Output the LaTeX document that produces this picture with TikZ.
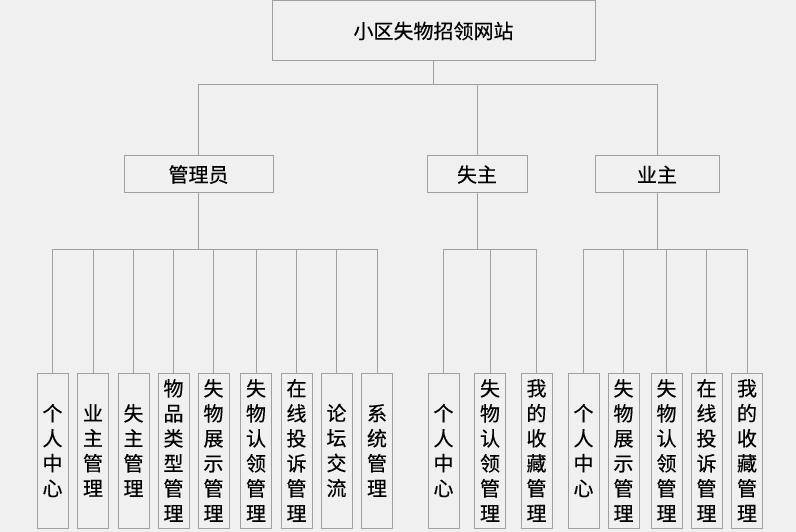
\documentclass[tikz,border=0pt]{standalone}
\usepackage{fontspec}
\setmainfont{Noto Sans CJK SC}[FakeBold=0.35]
\usepackage{xcolor}
\usepackage{tikz}
\usetikzlibrary{positioning, calc}
\definecolor{bggray}{HTML}{F0F0F0}
\definecolor{boxgray}{HTML}{A0A0A0}
\tikzset{
    site/.style={
        rectangle,
        draw=boxgray,
        line width=1pt,
        fill=bggray,
        minimum width=323pt,
        minimum height=60pt,
        font=\fontsize{20}{25}\selectfont,
    },
    role/.style={
        rectangle,
        draw=boxgray,
        line width=1pt,
        fill=bggray,
        minimum height=37pt,
        font=\fontsize{20}{25}\selectfont,
    },
    func/.style={
        rectangle,
        draw=boxgray,
        line width=1pt,
        fill=bggray,
        minimum width=31pt,
        minimum height=155pt,
        inner sep=0pt,
        align=center,
        font=\fontsize{20}{25}\selectfont,
    },
    link/.style={
        draw=boxgray,
        line width=1pt,
    },
}

\begin{document}
\begin{tikzpicture}[x=1pt, y=-1pt]
      \fill[bggray] (0,0) rectangle (796,532);
      \useasboundingbox (0,0) rectangle (796,532);

      \node[site] (web) at (433.5,31) {小区失物招领网站};

      \node[role, minimum width=149pt] (admin) at (198.5,174.5) {管理员};
      \node[role, minimum width=100pt] (loser) at (477,174.5) {失主};
      \node[role, minimum width=124pt] (owner) at (657,174.5) {业主};

      % admin functions
      \node[func] (a1) at (52.5,450.5) {个\\人\\中\\心};
      \node[func] (a2) at (93,450.5) {业\\主\\管\\理};
      \node[func] (a3) at (133.5,450.5) {失\\主\\管\\理};
      \node[func] (a4) at (173.5,450.5) {物\\品\\类\\型\\管\\理};
      \node[func] (a5) at (213.5,450.5) {失\\物\\展\\示\\管\\理};
      \node[func] (a6) at (256,450.5) {失\\物\\认\\领\\管\\理};
      \node[func] (a7) at (296.5,450.5) {在\\线\\投\\诉\\管\\理};
      \node[func] (a8) at (336.5,450.5) {论\\坛\\交\\流};
      \node[func] (a9) at (377,450.5) {系\\统\\管\\理};

      % loser functions
      \node[func] (l1) at (443.5,450.5) {个\\人\\中\\心};
      \node[func] (l2) at (490,450.5) {失\\物\\认\\领\\管\\理};
      \node[func] (l3) at (536.5,450.5) {我\\的\\收\\藏\\管\\理};

      % owner functions
      \node[func] (o1) at (583.5,450.5) {个\\人\\中\\心};
      \node[func] (o2) at (623.5,450.5) {失\\物\\展\\示\\管\\理};
      \node[func] (o3) at (666.5,450.5) {失\\物\\认\\领\\管\\理};
      \node[func] (o4) at (706.5,450.5) {在\\线\\投\\诉\\管\\理};
      \node[func] (o5) at (747,450.5) {我\\的\\收\\藏\\管\\理};

      \coordinate (bus0) at (0,85);
      \coordinate (bus1) at (0,249.5);

      \draw[link] (web.south) -- (web.south |- bus0) -| (admin.north);
      \draw[link] (web.south |- bus0) -| (loser.north);
      \draw[link] (web.south |- bus0) -| (owner.north);

      \foreach \k in {1,...,9}
        \draw[link] (admin.south) -- (admin.south |- bus1) -| (a\k.north);
      \foreach \k in {1,...,3}
        \draw[link] (loser.south) -- (loser.south |- bus1) -| (l\k.north);
      \foreach \k in {1,...,5}
        \draw[link] (owner.south) -- (owner.south |- bus1) -| (o\k.north);
    \end{tikzpicture}
\end{document}
